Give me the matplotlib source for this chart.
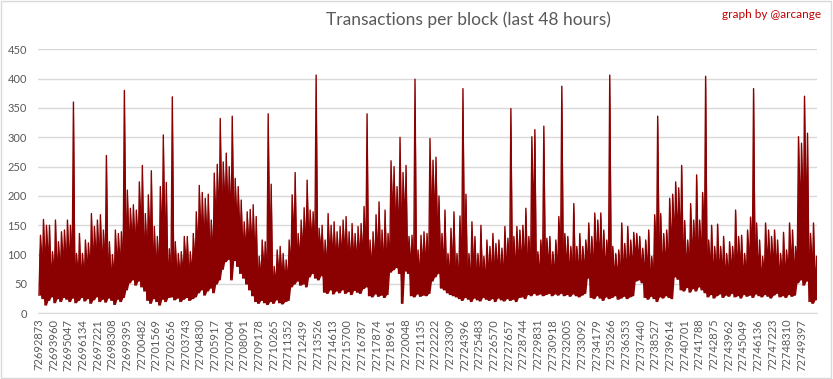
"""
Transactions per block over the last 48 hours (dense per-block line chart).
"""

import matplotlib
matplotlib.use("Agg")
import matplotlib.pyplot as plt
import numpy as np

# --- data ------------------------------------------------------------------
first_block = 72692873          # first block on the x axis
label_step = 1087               # blocks between two x tick labels
n_labels = 53
bin_size = 222                  # blocks summarised by one (low, high) pair

# per-bin peak values (transactions per block)
highs = [
    133, 160, 150, 150, 105, 159, 122, 139, 142, 159,
    150, 360, 102, 136, 102, 125, 120, 170, 148, 159,
    168, 142, 269, 122, 100, 142, 136, 139, 380, 210,
    179, 185, 176, 224, 252, 170, 202, 243, 148, 131,
    216, 304, 223, 110, 369, 122, 102, 105, 131, 131,
    105, 136, 173, 218, 206, 196, 203, 159, 239, 254,
    332, 258, 273, 250, 336, 230, 216, 193, 156, 173,
    177, 185, 165, 97, 125, 122, 340, 220, 80, 108,
    114, 102, 91, 125, 202, 240, 136, 159, 180, 227,
    176, 173, 406, 145, 150, 125, 170, 150, 156, 139,
    148, 159, 165, 139, 153, 136, 148, 153, 182, 340,
    125, 139, 168, 190, 142, 176, 136, 260, 250, 216,
    300, 240, 252, 131, 133, 399, 108, 133, 139, 136,
    298, 261, 266, 200, 136, 176, 102, 145, 173, 102,
    166, 383, 203, 102, 156, 131, 102, 150, 97, 125,
    114, 136, 119, 125, 111, 148, 128, 349, 131, 148,
    142, 150, 179, 131, 301, 313, 105, 125, 319, 128,
    131, 105, 125, 165, 387, 136, 131, 114, 187, 114,
    136, 114, 125, 154, 131, 171, 159, 171, 142, 125,
    406, 114, 102, 108, 154, 119, 148, 125, 138, 136,
    131, 111, 125, 142, 97, 168, 336, 170, 136, 142,
    196, 203, 224, 214, 252, 158, 125, 187, 159, 236,
    159, 206, 404, 125, 150, 114, 152, 114, 131, 102,
    122, 114, 176, 131, 133, 102, 142, 164, 383, 154,
    125, 97, 154, 142, 131, 142, 125, 102, 138, 108,
    154, 142, 114, 301, 290, 370, 307, 136, 154, 97,
]

# per-bin trough values
lows = [
    31, 25, 14, 22, 28, 18, 25, 20, 27, 24,
    20, 26, 18, 22, 27, 21, 25, 17, 23, 28,
    20, 24, 19, 26, 22, 15, 24, 20, 27, 40,
    52, 57, 48, 55, 45, 38, 22, 17, 25, 20,
    14, 24, 20, 27, 28, 23, 26, 20, 24, 27,
    22, 25, 28, 35, 40, 31, 38, 43, 35, 50,
    57, 75, 88, 92, 57, 90, 80, 68, 60, 50,
    40, 30, 20, 17, 22, 18, 15, 20, 17, 23,
    18, 16, 20, 22, 45, 50, 55, 48, 50, 45,
    62, 68, 60, 57, 64, 36, 34, 40, 33, 38,
    35, 40, 34, 37, 32, 39, 36, 34, 42, 45,
    30, 28, 33, 29, 31, 27, 32, 70, 74, 78,
    68, 17, 72, 68, 30, 28, 33, 29, 31, 30,
    34, 55, 62, 68, 43, 40, 35, 32, 30, 28,
    25, 22, 27, 24, 20, 26, 23, 21, 27, 24,
    22, 25, 20, 26, 23, 21, 25, 22, 24, 20,
    27, 28, 25, 32, 30, 34, 31, 33, 30, 32,
    34, 30, 33, 31, 34, 30, 32, 29, 33, 30,
    28, 31, 34, 60, 27, 25, 30, 26, 22, 28,
    25, 27, 30, 24, 26, 29, 25, 28, 30, 55,
    57, 52, 27, 24, 29, 25, 20, 28, 26, 30,
    27, 25, 62, 58, 40, 38, 44, 36, 42, 38,
    45, 40, 35, 28, 32, 26, 30, 33, 27, 31,
    29, 34, 28, 30, 26, 32, 29, 31, 27, 33,
    30, 28, 32, 29, 26, 31, 34, 28, 30, 27,
    32, 29, 31, 52, 57, 48, 55, 20, 17, 23,
]

y_ticks = [0, 50, 100, 150, 200, 250, 300, 350, 400, 450]

# --- build the line ---------------------------------------------------------
highs_a = np.array(highs, dtype=float)
lows_a = np.array(lows, dtype=float)
bin_start = first_block + np.arange(len(highs)) * bin_size

xs = np.empty(2 * len(highs))
ys = np.empty(2 * len(highs))
xs[0::2] = bin_start
xs[1::2] = bin_start + bin_size / 2
ys[0::2] = lows_a
ys[1::2] = highs_a

# the blocks are so dense that the band between neighbouring peaks is mostly
# solid: fill part of the way up to the lower of the two neighbouring peaks
valley = np.minimum(highs_a, np.roll(highs_a, 1))
valley[0] = highs_a[0]
valley = lows_a + 0.7 * (valley - lows_a)
upper = ys.copy()
upper[0::2] = valley
lower = np.repeat(lows_a, 2)

tick_blocks = first_block + np.arange(n_labels) * label_step

# --- plot -------------------------------------------------------------------
plt.rcParams['font.family'] = ['Lato', 'DejaVu Sans']
fig = plt.figure(figsize=(8.33, 3.79), dpi=100)
ax = fig.add_axes([38 / 833, 65.7 / 379, 779 / 833, 264 / 379])

red = '#8b0000'
ax.fill_between(xs, lower, upper, color=red, linewidth=0)
ax.plot(xs, ys, color=red, linewidth=1.0)

ax.set_xlim(72692800, 72750520)
ax.set_ylim(0, 450)
ax.set_yticks(y_ticks)
ax.set_xticks(tick_blocks)
ax.set_xticklabels([str(b) for b in tick_blocks], rotation=90)

ax.grid(axis='y', color='#d9d9d9', linewidth=1)
ax.set_axisbelow(True)
for side in ['top', 'right', 'left']:
    ax.spines[side].set_visible(False)
ax.spines['bottom'].set_color('#d9d9d9')
ax.tick_params(axis='both', length=0, labelsize=8, colors='#595959')
ax.tick_params(axis='y', pad=8)
ax.tick_params(axis='x', pad=4)

fig.text(468 / 833, 1 - 20 / 379, "Transactions per block (last 48 hours)",
         ha='center', va='center', fontsize=12.5, color='#595959')
fig.text(821 / 833, 1 - 14 / 379, "graph by @arcange",
         ha='right', va='center', fontsize=8.5, color='#c00000')

# light chart border
fig.patches.append(plt.Rectangle((0.001, 0.002), 0.997, 0.995, transform=fig.transFigure,
                                 fill=False, edgecolor='#d9d9d9', linewidth=1))

fig.savefig('out.png', dpi=100)
